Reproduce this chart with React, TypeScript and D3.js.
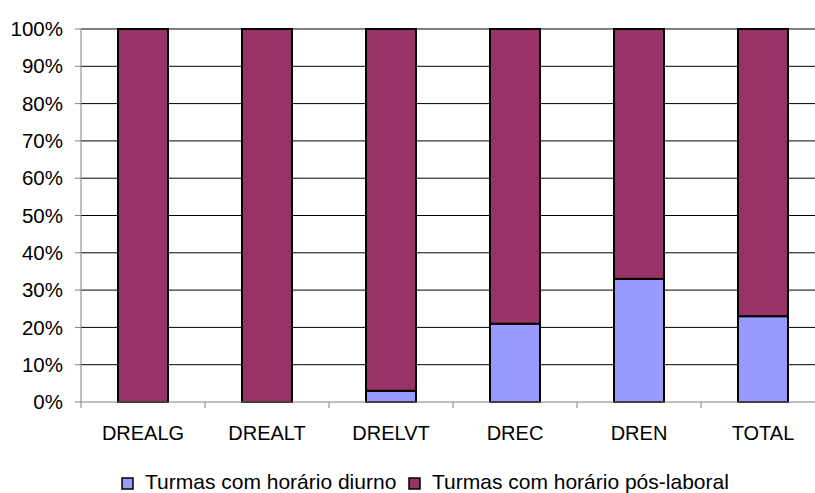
import React from "react";
import * as d3 from "d3";

const categories = ["DREALG", "DREALT", "DRELVT", "DREC", "DREN", "TOTAL"];
const diurno = [0, 0, 3, 21, 33, 23];
const posLaboral = [100, 100, 97, 79, 67, 77];
const seriesNames = ["Turmas com horário diurno", "Turmas com horário pós-laboral"];
const seriesColors = ["#9999FF", "#993366"];
const yTicks = [0, 10, 20, 30, 40, 50, 60, 70, 80, 90, 100];

export default function App() {
  const W = 815, H = 493;
  const left = 81, top = 29, bottom = 402;
  const x = d3.scaleBand<string>().domain(categories).range([left, left + 744]).paddingInner(0).paddingOuter(0);
  const y = d3.scaleLinear().domain([0, 100]).range([bottom, top]);
  const bw = 50;
  const font = "'Liberation Sans', Arial, sans-serif";
  const stack = categories.map((c, i) => ({ c, vals: [diurno[i], posLaboral[i]] }));
  return (
    <svg width={W} height={H} style={{ position: "absolute", left: 0, top: 0 }} fontFamily={font}>
      <rect width={W} height={H} fill="#fff" />
      {yTicks.map((t) => (
        <g key={t}>
          {t > 0 && <line x1={left} x2={left + 744} y1={y(t)} y2={y(t)} stroke="#000" strokeWidth={1} />}
          <line x1={75} x2={left} y1={y(t)} y2={y(t)} stroke="#808080" strokeWidth={1} />
          <text x={63} y={y(t)} dy="0.35em" textAnchor="end" fontSize={20.5} fill="#000">{t}%</text>
        </g>
      ))}
      {stack.map((s) => {
        let acc = 0;
        const cx = (x(s.c) as number) + x.bandwidth() / 2;
        return (
          <g key={s.c}>
            {s.vals.map((v, j) => {
              const y0 = acc, y1 = acc + v;
              acc = y1;
              if (v <= 0) return null;
              return (
                <rect key={j} x={cx - bw / 2} y={y(y1)} width={bw} height={y(y0) - y(y1)}
                  fill={seriesColors[j]} stroke="#000" strokeWidth={2} />
              );
            })}
            <text x={cx} y={440} textAnchor="middle" fontSize={20} fill="#000">{s.c}</text>
          </g>
        );
      })}
      <line x1={left} x2={left} y1={top} y2={bottom + 6} stroke="#808080" strokeWidth={1} />
      <line x1={left} x2={left + 744} y1={bottom} y2={bottom} stroke="#808080" strokeWidth={1} />
      {categories.map((c) => (
        <line key={c} x1={(x(c) as number) + x.bandwidth()} x2={(x(c) as number) + x.bandwidth()} y1={bottom} y2={bottom + 6} stroke="#808080" strokeWidth={1} />
      ))}
      <g>
        <rect x={122} y={478} width={11} height={11} fill={seriesColors[0]} stroke="#000" strokeWidth={1.5} />
        <text x={145} y={489} fontSize={21} fill="#000">{seriesNames[0]}</text>
        <rect x={409} y={478} width={11} height={11} fill={seriesColors[1]} stroke="#000" strokeWidth={1.5} />
        <text x={432} y={489} fontSize={21} fill="#000">{seriesNames[1]}</text>
      </g>
    </svg>
  );
}
